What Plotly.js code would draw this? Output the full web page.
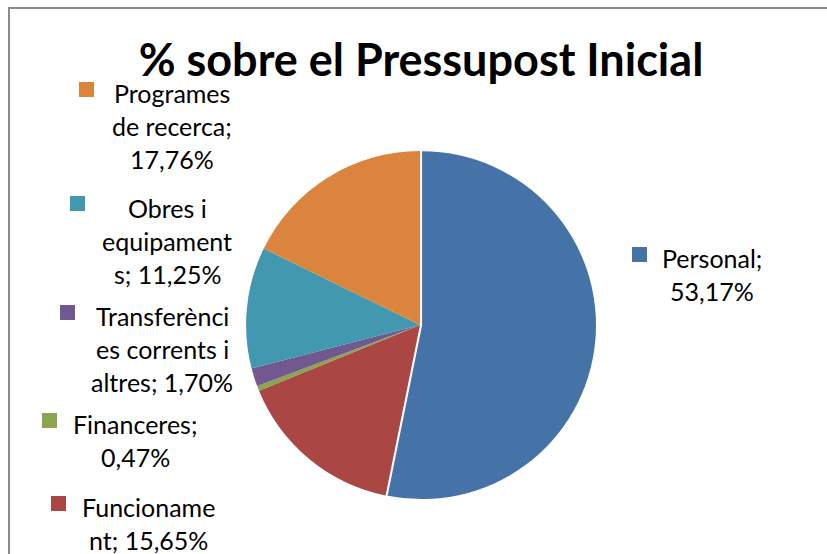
<!DOCTYPE html>
<html>
<head>
<meta charset="utf-8">
<script src="https://cdn.plot.ly/plotly-3.0.1.min.js"></script>
<style>html,body{margin:0;padding:0;background:#fff;}#chart{width:827px;height:554px;}</style>
</head>
<body>
<div id="chart"></div>
<script>
// Data
const categories = ["Personal", "Funcionament", "Financeres", "Transferències corrents i altres", "Obres i equipaments", "Programes de recerca"];
const values = [53.17, 15.65, 0.47, 1.70, 11.25, 17.76];
const colors = ["#4572A7", "#AA4643", "#89A54E", "#71588F", "#4198AF", "#DB843D"];
const labelLines = [
  ["Personal;", "53,17%"],
  ["Funcioname", "nt; 15,65%"],
  ["Financeres;", "0,47%"],
  ["Transferènci", "es corrents i", "altres; 1,70%"],
  ["Obres i", "equipament", "s; 11,25%"],
  ["Programes", "de recerca;", "17,76%"]
];

const W = 827, H = 554;
const px = x => x / W;
const py = y => 1 - y / H;

// label layout (pixel positions: text center x, first line mid y, key square top-left)
const labelPos = [
  {cx: 712, y0: 257, sq: [632, 247]},
  {cx: 148, y0: 506, sq: [51, 496]},
  {cx: 135, y0: 423, sq: [42, 413]},
  {cx: 162, y0: 315, sq: [60, 305]},
  {cx: 167, y0: 207, sq: [70, 196]},
  {cx: 172, y0: 92,  sq: [79, 82]}
];
const lineStep = 33;

const annotations = [];
const shapes = [];
categories.forEach((c, i) => {
  const p = labelPos[i];
  labelLines[i].forEach((t, k) => {
    annotations.push({
      xref: 'paper', yref: 'paper',
      x: px(p.cx), y: py(p.y0 + k * lineStep + 1), xanchor: 'center', yanchor: 'middle',
      text: t, align: 'center', showarrow: false,
      font: {family: 'Lato, Carlito, sans-serif', size: 25, color: '#000'}
    });
  });
  shapes.push({
    type: 'rect', xref: 'paper', yref: 'paper',
    x0: px(p.sq[0]), x1: px(p.sq[0] + 15), y0: py(p.sq[1]), y1: py(p.sq[1] + 15),
    fillcolor: colors[i], line: {width: 0}
  });
});

// outer frame
shapes.push({
  type: 'rect', xref: 'paper', yref: 'paper',
  x0: px(9), x1: px(900), y0: py(620), y1: py(8),
  line: {color: '#8C8C8C', width: 2}, fillcolor: 'rgba(0,0,0,0)', layer: 'below'
});

const trace = {
  type: 'pie',
  labels: categories,
  values: values,
  sort: false,
  direction: 'clockwise',
  rotation: 0,
  pull: [0.012, 0, 0, 0, 0, 0],
  marker: {colors: colors, line: {width: 0}},
  textinfo: 'none',
  hoverinfo: 'label+percent',
  domain: {x: [px(244), px(596)], y: [py(501), py(149)]},
  showlegend: false
};

const layout = {
  width: W, height: H,
  margin: {l: 0, r: 0, t: 0, b: 0},
  paper_bgcolor: '#fff',
  title: {
    text: '% sobre el Pressupost Inicial',
    x: px(421), xanchor: 'center', y: py(60), yanchor: 'middle',
    font: {family: 'Lato, Carlito, sans-serif', size: 45, color: '#000', weight: 'bold'}
  },
  annotations: annotations,
  shapes: shapes,
  showlegend: false
};

Plotly.newPlot('chart', [trace], layout, {displayModeBar: false, staticPlot: true});
</script>
</body>
</html>
